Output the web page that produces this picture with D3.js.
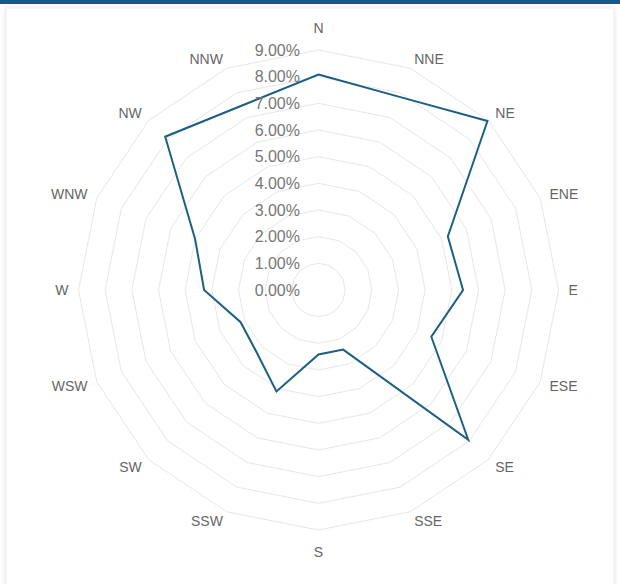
<!DOCTYPE html>
<html>
<head>
<meta charset="utf-8">
<script src="https://cdn.jsdelivr.net/npm/d3@7"></script>
<style>
  html, body { margin: 0; padding: 0; background: #ffffff; }
  svg { display: block; }
</style>
</head>
<body>
<svg id="chart" width="620" height="584"></svg>
<script>
const directions = ["N","NNE","NE","ENE","E","ESE","SE","SSE","S","SSW","SW","WSW","W","WNW","NW","NNW"];
const frequencies = [8.08, 7.85, 8.96, 5.25, 5.42, 4.58, 7.94, 2.42, 2.42, 4.12, 3.29, 3.16, 4.29, 5.01, 8.13, 7.49];
const tickValues = [0, 1, 2, 3, 4, 5, 6, 7, 8, 9];
const tickLabels = ["0.00%","1.00%","2.00%","3.00%","4.00%","5.00%","6.00%","7.00%","8.00%","9.00%"];

const W = 620, H = 584;
const cx = 318.5, cy = 290, R = 240;
const svg = d3.select("#chart");

// card frame
const defs = svg.append("defs");
const f = defs.append("filter").attr("id","sh").attr("x","-5%").attr("y","-5%").attr("width","110%").attr("height","110%");
f.append("feDropShadow").attr("dx",0).attr("dy",0).attr("stdDeviation",2).attr("flood-color","#000").attr("flood-opacity",0.12);
svg.append("rect").attr("x",0).attr("y",0).attr("width",W).attr("height",H).attr("fill","#ffffff");
svg.append("rect").attr("x",6).attr("y",8).attr("width",608).attr("height",600)
  .attr("fill","#ffffff").attr("stroke","#ededed").attr("filter","url(#sh)");
svg.append("rect").attr("x",0).attr("y",0).attr("width",W).attr("height",4).attr("fill","#135a84");

const r = d3.scaleLinear().domain([0, 9]).range([0, R]);
const angle = d3.scalePoint().domain(directions).range([0, 2*Math.PI*(15/16)]);

const g = svg.append("g").attr("transform", `translate(${cx},${cy})`);

// grid rings (16-gons)
tickValues.filter(v => v > 0).forEach(v => {
  const line = d3.lineRadial().curve(d3.curveLinearClosed)
    .angle(d => angle(d)).radius(() => r(v));
  g.append("path").attr("d", line(directions))
    .attr("fill","none").attr("stroke","#e9e7e5").attr("stroke-width",1);
});

// data polygon
const dataLine = d3.lineRadial().curve(d3.curveLinearClosed)
  .angle((d,i) => angle(directions[i])).radius(d => r(d));
g.append("path").attr("d", dataLine(frequencies))
  .attr("fill","none").attr("stroke","#1d5f84").attr("stroke-width",2).attr("stroke-linejoin","miter");

// tick labels
g.selectAll("text.tick").data(tickValues).enter().append("text")
  .attr("class","tick")
  .attr("x", -18.5).attr("y", d => -r(d))
  .attr("text-anchor","end").attr("dominant-baseline","central")
  .attr("font-family","'Liberation Sans', Arial, Helvetica, sans-serif")
  .attr("font-size",16).attr("fill","#777777")
  .text((d,i) => tickLabels[i]);

// direction labels
directions.forEach(d => {
  const a = angle(d);
  const sx = Math.sin(a), sy = -Math.cos(a);
  let anchor = "middle", rr = 250;
  if (sx > 0.01) anchor = "start"; else if (sx < -0.01) anchor = "end";
  if (Math.abs(sx) < 0.01) rr = 262;
  g.append("text")
    .attr("x", rr*sx).attr("y", rr*sy)
    .attr("text-anchor", anchor).attr("dominant-baseline", "central")
    .attr("font-family","'Liberation Sans', Arial, Helvetica, sans-serif")
    .attr("font-size",14).attr("fill","#666666")
    .text(d);
});
</script>
</body>
</html>
